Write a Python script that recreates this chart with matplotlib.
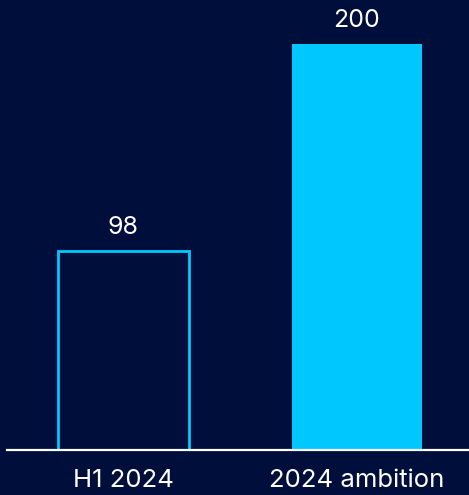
import matplotlib
matplotlib.use("Agg")
import matplotlib.pyplot as plt

# Data
categories = ["H1 2024", "2024 ambition"]
values = [98, 200]

# Style
BG = "#000E3C"
CYAN = "#00C8FF"
WHITE = "#FFFFFF"
plt.rcParams["font.family"] = ["Inter", "DejaVu Sans"]

W, H, DPI = 469, 495, 100
fig = plt.figure(figsize=(W / DPI, H / DPI), dpi=DPI, facecolor=BG)
ax = fig.add_axes([7 / W, 45 / H, (W - 7) / W, 450 / H])
ax.set_facecolor(BG)

x = list(range(len(categories)))
bar_w = 0.557
face = [BG, CYAN]
edge = [CYAN, CYAN]
lw = [2.0, 0]
for xi, v, fc, ec, l in zip(x, values, face, edge, lw):
    ax.bar(xi, v, width=bar_w, color=fc, edgecolor=ec, linewidth=l, zorder=2)
    ax.text(xi, v + 6, f"{v}", ha="center", va="bottom", color=WHITE,
            fontsize=18)

ax.set_xlim(-0.499, 1.48)
ax.set_ylim(0, 221.7)
ax.axhline(0, color=WHITE, linewidth=1.6, zorder=3, clip_on=False)

for s in ax.spines.values():
    s.set_visible(False)
ax.set_yticks([])
ax.set_xticks(x)
ax.set_xticklabels(categories, color=WHITE, fontsize=18.5)
ax.tick_params(axis="x", length=0, pad=14)

fig.savefig("out.png", dpi=DPI, facecolor=BG)
